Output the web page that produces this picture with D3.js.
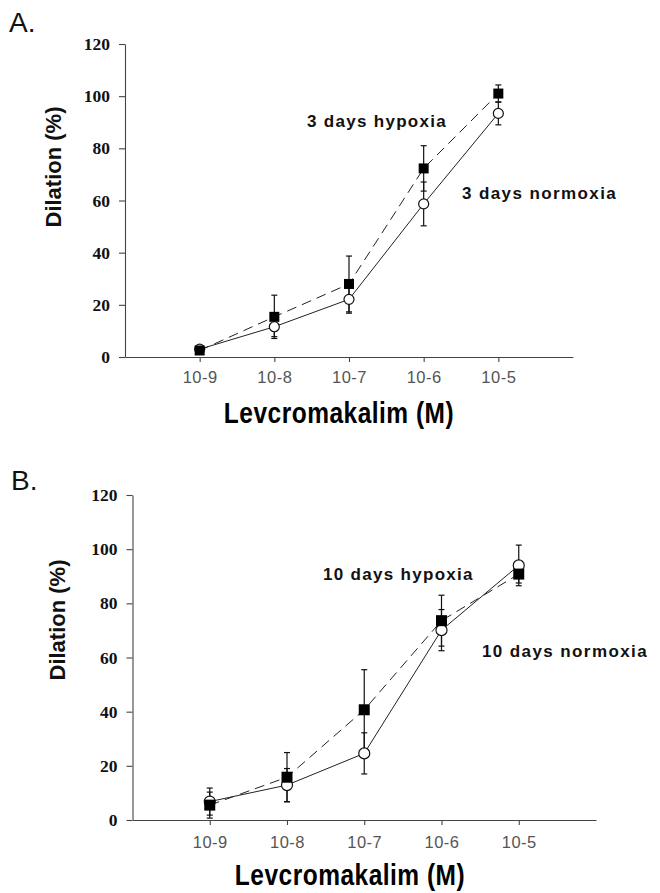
<!DOCTYPE html>
<html>
<head>
<meta charset="utf-8">
<script src="https://cdn.jsdelivr.net/npm/d3@7"></script>
<style>
  html, body { margin: 0; padding: 0; background: #fff; }
  svg { display: block; }
</style>
</head>
<body>
<svg id="chart" width="660" height="893"></svg>
<script>
// ---- data ----
const categories = ["10-9", "10-8", "10-7", "10-6", "10-5"];
const yTicks = [0, 20, 40, 60, 80, 100, 120];

const hypoxia3 = [2.5, 15.4, 28, 72.3, 101];
const hypoxia3Err = [1, 8.3, 10.7, 8.7, 3.3];
const normoxia3 = [3, 11.6, 22.1, 58.7, 93.4];
const normoxia3Err = [1, 3.8, 5.3, 8.4, 4.4];

const hypoxia10 = [5.5, 15.8, 40.7, 73.6, 90.8];
const hypoxia10Err = [4.8, 9.1, 14.8, 9.4, 3.3];
const normoxia10 = [6.8, 12.9, 24.6, 70.1, 94];
const normoxia10Err = [5, 6.1, 7.6, 7.6, 7.5];

const panelLabels = ["A.", "B."];
const yTitle = "Dilation (%)";
const xTitle = "Levcromakalim (M)";
const hypLabels = ["3 days hypoxia", "10 days hypoxia"];
const normLabels = ["3 days normoxia", "10 days normoxia"];

// ---- layout ----
const panels = [
  { left: 125, right: 573, top: 44, bottom: 357,
    hyp: hypoxia3, hypErr: hypoxia3Err, norm: normoxia3, normErr: normoxia3Err,
    tag: panelLabels[0], tagX: 9, tagY: 32,
    yTitleX: 53, yTitleY: 167, xTitleX: 339, xTitleY: 423, tickLabelDy: 26,
    hypLabel: hypLabels[0], hypX: 307, hypY: 127,
    normLabel: normLabels[0], normX: 462, normY: 199, marker: 10 },
  { left: 132.5, right: 596, top: 495, bottom: 820,
    hyp: hypoxia10, hypErr: hypoxia10Err, norm: normoxia10, normErr: normoxia10Err,
    tag: panelLabels[1], tagX: 11, tagY: 490,
    yTitleX: 57, yTitleY: 620, xTitleX: 350, xTitleY: 885, tickLabelDy: 28,
    hypLabel: hypLabels[1], hypX: 323, hypY: 580,
    normLabel: normLabels[1], normX: 482, normY: 657, marker: 11 }
];

const svg = d3.select("#chart");
const sans = "'Liberation Sans', Arial, sans-serif";
const serif = "'Liberation Serif', 'Times New Roman', serif";

panels.forEach(p => {
  const g = svg.append("g");
  const x = d3.scaleLinear().domain([-1, 5]).range([p.left, p.right]);
  const y = d3.scaleLinear().domain([0, 120]).range([p.bottom, p.top]);

  // y axis
  const ya = g.append("g").attr("transform", `translate(${p.left},0)`)
    .call(d3.axisLeft(y).tickValues(yTicks).tickSize(6).tickSizeOuter(0).tickPadding(9));
  ya.selectAll("path, line").attr("stroke", "#444").attr("stroke-width", 1.1);
  ya.selectAll("text").attr("font-family", serif).attr("font-weight", "bold")
    .attr("font-size", 17.5).attr("fill", "#111");

  // x axis
  const xa = g.append("g").attr("transform", `translate(0,${p.bottom})`)
    .call(d3.axisBottom(x).tickValues(d3.range(categories.length))
      .tickFormat(i => categories[i]).tickSize(5).tickSizeOuter(0));
  xa.selectAll("path, line").attr("stroke", "#444").attr("stroke-width", 1.1);
  xa.selectAll("text").attr("font-family", sans).attr("font-size", 16.5)
    .attr("letter-spacing", 0.5)
    .attr("fill", "#555").attr("y", p.tickLabelDy).attr("dy", 0);

  // panel tag
  g.append("text").attr("x", p.tagX).attr("y", p.tagY).text(p.tag)
    .attr("font-family", sans).attr("font-size", 28).attr("fill", "#111");

  // y title
  g.append("text")
    .attr("transform", `translate(${p.yTitleX},${p.yTitleY}) rotate(-90)`)
    .attr("text-anchor", "middle").attr("dy", "0.35em")
    .attr("font-family", sans).attr("font-weight", "bold").attr("font-size", 22)
    .attr("fill", "#111").text(yTitle);

  // x title
  g.append("text")
    .attr("transform", `translate(${p.xTitleX},${p.xTitleY}) scale(1,1.2)`)
    .attr("text-anchor", "middle")
    .attr("font-family", sans).attr("font-weight", "bold").attr("font-size", 24.5)
    .attr("letter-spacing", 0.5).attr("fill", "#000").text(xTitle);

  // lines
  const line = d3.line().x((d, i) => x(i)).y(d => y(d));
  g.append("path").datum(p.norm).attr("d", line).attr("fill", "none")
    .attr("stroke", "#222").attr("stroke-width", 1);
  g.append("path").datum(p.hyp).attr("d", line).attr("fill", "none")
    .attr("stroke", "#222").attr("stroke-width", 1).attr("stroke-dasharray", "10,6");

  // error bars
  function errBars(vals, errs) {
    const eg = g.append("g").attr("stroke", "#111").attr("stroke-width", 1.2);
    vals.forEach((v, i) => {
      const cx = x(i), y1 = y(v - errs[i]), y2 = y(v + errs[i]);
      eg.append("line").attr("x1", cx).attr("x2", cx).attr("y1", y1).attr("y2", y2);
      eg.append("line").attr("x1", cx - 3).attr("x2", cx + 3).attr("y1", y1).attr("y2", y1);
      eg.append("line").attr("x1", cx - 3).attr("x2", cx + 3).attr("y1", y2).attr("y2", y2);
    });
  }
  errBars(p.norm, p.normErr);
  errBars(p.hyp, p.hypErr);

  // markers
  g.selectAll(".circ").data(p.norm).enter().append("circle")
    .attr("cx", (d, i) => x(i)).attr("cy", d => y(d)).attr("r", p.marker / 2)
    .attr("fill", "#fff").attr("stroke", "#111").attr("stroke-width", 1.2);
  g.selectAll(".sq").data(p.hyp).enter().append("rect")
    .attr("x", (d, i) => x(i) - p.marker / 2).attr("y", d => y(d) - p.marker / 2)
    .attr("width", p.marker).attr("height", p.marker).attr("fill", "#000");

  // annotations
  g.append("text").attr("x", p.hypX).attr("y", p.hypY).text(p.hypLabel)
    .attr("font-family", sans).attr("font-weight", "bold").attr("font-size", 17)
    .attr("letter-spacing", 1.3).attr("fill", "#111");
  g.append("text").attr("x", p.normX).attr("y", p.normY).text(p.normLabel)
    .attr("font-family", sans).attr("font-weight", "bold").attr("font-size", 17)
    .attr("letter-spacing", 1.4).attr("fill", "#111");
});
</script>
</body>
</html>
